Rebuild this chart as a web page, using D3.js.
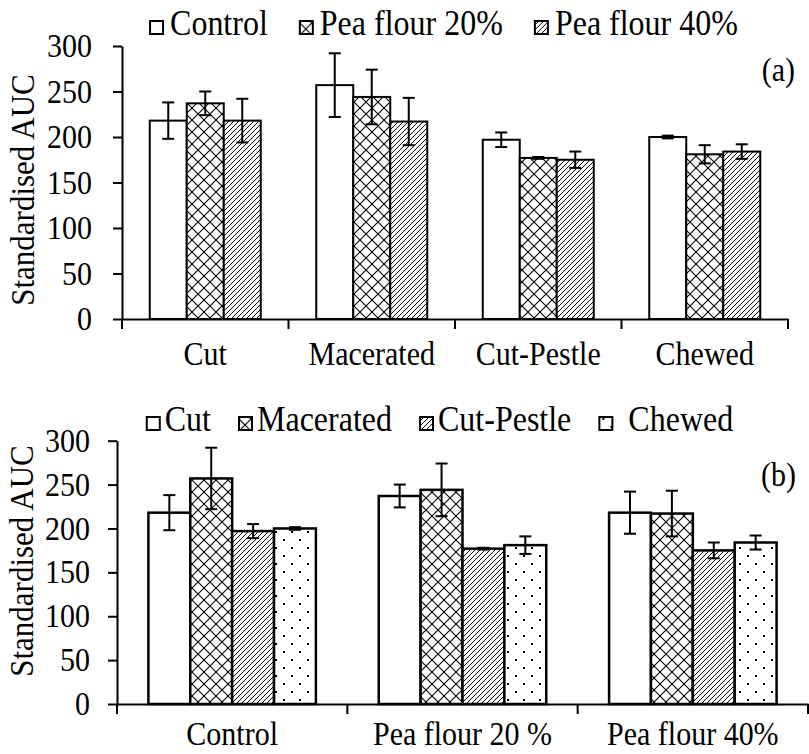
<!DOCTYPE html>
<html>
<head>
<meta charset="utf-8">
<script src="https://cdn.jsdelivr.net/npm/d3@7"></script>
<style>
  body { margin: 0; background: #fff; }
  svg text { font-family: "Liberation Serif", "Times New Roman", serif; fill: #000; }
</style>
</head>
<body>
<div id="chart"></div>
<script>
// Data
const methods = ["Cut", "Macerated", "Cut-Pestle", "Chewed"];
const flours = ["Control", "Pea flour 20%", "Pea flour 40%"];
const flourTickLabels = ["Control", "Pea flour 20 %", "Pea flour 40%"];
const controlMean = [218, 257, 197, 200];
const pea20Mean = [237, 244, 177, 181];
const pea40Mean = [218, 217, 175, 184];
const controlErr = [20, 35, 8, 1.5];
const pea20Err = [13, 30, 1, 10];
const pea40Err = [24, 26, 9, 8];
const yTicks = [0, 50, 100, 150, 200, 250, 300];

const W = 809, H = 754;
const FONT = "Liberation Serif, Times New Roman, serif";
const STRETCH = 1.1; // the original's lettering is a bit taller than Times

const means = [controlMean, pea20Mean, pea40Mean];
const errs = [controlErr, pea20Err, pea40Err];
// flat table: one row per (flour, method)
const table = [];
flours.forEach((f, i) => methods.forEach((m, j) => {
  table.push({flour: f, method: m, value: means[i][j], err: errs[i][j]});
}));

const svg = d3.select("#chart").append("svg")
  .attr("width", W).attr("height", H);

// move x/y into a transform so the glyphs can be stretched vertically
function stretch(sel, extra) {
  sel.each(function () {
    const t = d3.select(this);
    const x = +t.attr("x") || 0, y = +t.attr("y") || 0;
    t.attr("x", 0).attr("y", 0)
      .attr("font-family", FONT)
      .attr("transform", "translate(" + x + "," + y + ")" + (extra || "") + " scale(1," + STRETCH + ")");
  });
}

// Fill patterns
const defs = svg.append("defs");
const cross = defs.append("pattern").attr("id", "pCross")
  .attr("patternUnits", "userSpaceOnUse").attr("width", 12).attr("height", 12);
cross.append("rect").attr("width", 12).attr("height", 12).attr("fill", "#fff");
cross.append("path").attr("d", "M0,0L12,12M12,0L0,12")
  .attr("stroke", "#000").attr("stroke-width", 1.1);

const diag = defs.append("pattern").attr("id", "pDiag")
  .attr("patternUnits", "userSpaceOnUse").attr("width", 5).attr("height", 5);
diag.append("rect").attr("width", 5).attr("height", 5).attr("fill", "#fff");
diag.append("path").attr("d", "M-1,1L1,-1M0,5L5,0M4,6L6,4")
  .attr("stroke", "#000").attr("stroke-width", 1);

const dots = defs.append("pattern").attr("id", "pDots")
  .attr("patternUnits", "userSpaceOnUse").attr("width", 16).attr("height", 16);
dots.append("rect").attr("width", 16).attr("height", 16).attr("fill", "#fff");
dots.append("rect").attr("x", 3).attr("y", 3).attr("width", 2).attr("height", 2).attr("fill", "#000");
dots.append("rect").attr("x", 11).attr("y", 11).attr("width", 2).attr("height", 2).attr("fill", "#000");

function drawPanel(cfg) {
  const g = svg.append("g");
  const y = d3.scaleLinear().domain([0, 300]).range([cfg.bottom, cfg.top]);
  const x0 = d3.scaleBand().domain(cfg.groups).range([cfg.left, cfg.right]);
  const x1 = d3.scaleBand().domain(cfg.series)
    .range([0, x0.bandwidth()]).paddingInner(0).paddingOuter(0.75);
  const fill = d3.scaleOrdinal().domain(cfg.series).range(cfg.fills);

  // bars
  g.append("g").selectAll("rect")
    .data(table)
    .join("rect")
    .attr("x", d => x0(d[cfg.groupKey]) + x1(d[cfg.seriesKey]))
    .attr("y", d => y(d.value))
    .attr("width", x1.bandwidth())
    .attr("height", d => y(0) - y(d.value))
    .attr("fill", d => fill(d[cfg.seriesKey]))
    .attr("stroke", "#000")
    .attr("stroke-width", cfg.barStroke);

  // error bars
  const eb = g.append("g").selectAll("g")
    .data(table)
    .join("g")
    .attr("transform", d => "translate(" + (x0(d[cfg.groupKey]) + x1(d[cfg.seriesKey]) + x1.bandwidth() / 2) + ",0)");
  eb.append("line")
    .attr("y1", d => y(d.value - d.err)).attr("y2", d => y(d.value + d.err))
    .attr("stroke", "#000").attr("stroke-width", 2);
  eb.append("line")
    .attr("x1", -6).attr("x2", 6)
    .attr("y1", d => y(d.value + d.err)).attr("y2", d => y(d.value + d.err))
    .attr("stroke", "#000").attr("stroke-width", 2);
  eb.append("line")
    .attr("x1", -6).attr("x2", 6)
    .attr("y1", d => y(d.value - d.err)).attr("y2", d => y(d.value - d.err))
    .attr("stroke", "#000").attr("stroke-width", 2);

  // y axis
  const yAxis = g.append("g")
    .attr("transform", "translate(" + cfg.left + ",0)")
    .call(d3.axisLeft(y).tickValues(yTicks).tickSize(9).tickSizeOuter(0).tickPadding(cfg.yPad));
  yAxis.attr("font-family", FONT);
  yAxis.selectAll("path, line").attr("stroke", "#000").attr("stroke-width", 2);
  yAxis.selectAll("text").attr("font-size", 30).call(stretch);

  // x axis: labels at band centres, ticks at band edges
  const xAxis = g.append("g")
    .attr("transform", "translate(0," + cfg.bottom + ")")
    .call(d3.axisBottom(x0).tickSize(0).tickSizeOuter(0).tickPadding(cfg.xPad)
      .tickFormat((d, i) => cfg.groupLabels[i]));
  xAxis.attr("font-family", FONT);
  xAxis.select(".domain").attr("stroke", "#000").attr("stroke-width", 2);
  xAxis.selectAll("text").attr("font-size", 30).call(stretch);
  const edges = cfg.groups.map(d => x0(d)).concat([x0.range()[1]]);
  xAxis.selectAll(".edge").data(edges).join("line")
    .attr("class", "edge")
    .attr("x1", d => d).attr("x2", d => d)
    .attr("y1", 0).attr("y2", 10)
    .attr("stroke", "#000").attr("stroke-width", 2);

  // y title
  g.append("text")
    .attr("x", cfg.yTitleX).attr("y", cfg.yTitleY)
    .attr("text-anchor", "middle")
    .attr("font-size", 31)
    .text("Standardised AUC")
    .call(stretch, " rotate(-90)");

  // panel letter
  g.append("text")
    .attr("x", cfg.tagX).attr("y", cfg.tagY)
    .attr("text-anchor", "end")
    .attr("font-size", 30)
    .text(cfg.tag)
    .call(stretch);

  // legend
  const leg = g.append("g");
  let cx = 0;
  cfg.series.forEach((s, i) => {
    const it = leg.append("g").attr("transform", "translate(" + cx + ",0)");
    it.append("rect")
      .attr("x", 0).attr("y", -14).attr("width", 13).attr("height", 13)
      .attr("fill", fill(s)).attr("stroke", "#000").attr("stroke-width", 2);
    const t = it.append("text")
      .attr("x", 13 + cfg.legendTextGap[i]).attr("y", 0)
      .attr("font-size", 32)
      .attr("font-family", FONT)
      .text(cfg.legendLabels[i]);
    cx += 13 + cfg.legendTextGap[i] + t.node().getComputedTextLength() + cfg.legendGap;
    t.call(stretch);
  });
  const legW = cx - cfg.legendGap;
  leg.attr("transform", "translate(" + (cfg.legendCX - legW / 2) + "," + cfg.legendY + ")");
}

// Panel (a): grouped by method, series = flour
drawPanel({
  groups: methods, groupLabels: methods, groupKey: "method",
  series: flours, seriesKey: "flour",
  fills: ["#fff", "url(#pCross)", "url(#pDiag)"],
  legendLabels: flours, legendTextGap: [7, 7, 7], legendGap: 32,
  left: 122, right: 788, top: 46, bottom: 319, barStroke: 2,
  yPad: 21, xPad: 22.5, yTitleX: 34, yTitleY: 190,
  tag: "(a)", tagX: 795, tagY: 81,
  legendCX: 444, legendY: 35
});

// Panel (b): grouped by flour, series = method
drawPanel({
  groups: flours, groupLabels: flourTickLabels, groupKey: "flour",
  series: methods, seriesKey: "method",
  fills: ["#fff", "url(#pCross)", "url(#pDiag)", "url(#pDots)"],
  legendLabels: methods, legendTextGap: [5, 5, 5, 16], legendGap: 28,
  left: 117, right: 808, top: 440.7, bottom: 704, barStroke: 2.5,
  yPad: 18, xPad: 18, yTitleX: 33, yTitleY: 561,
  tag: "(b)", tagX: 796, tagY: 486,
  legendCX: 440, legendY: 431
});
</script>
</body>
</html>
